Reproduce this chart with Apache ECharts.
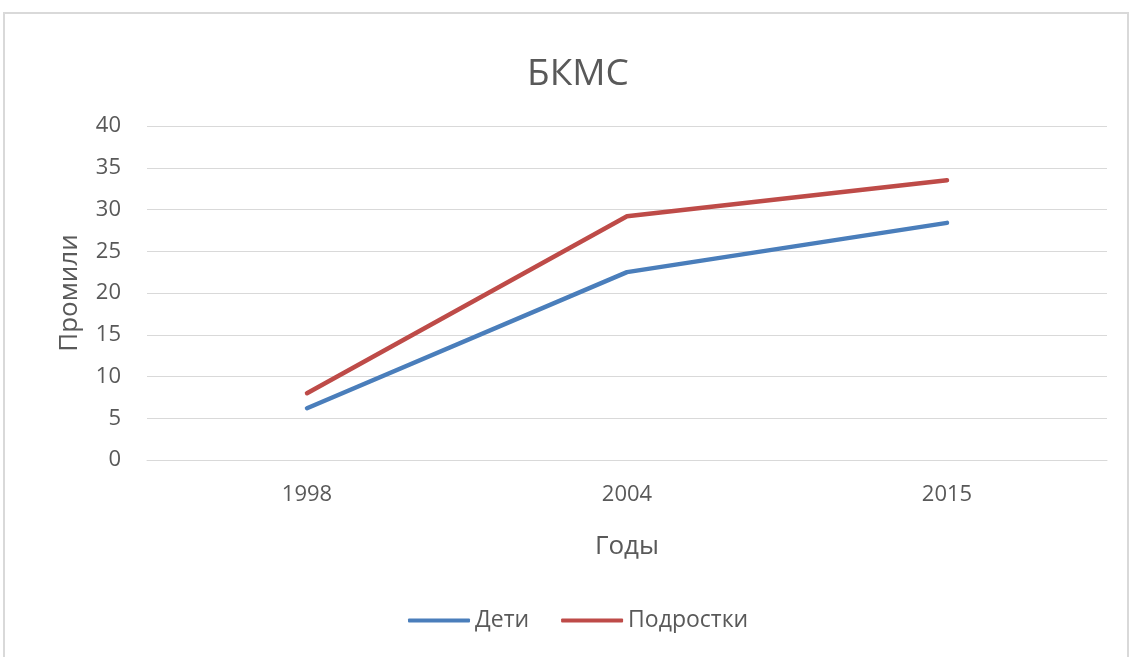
<!DOCTYPE html>
<html>
<head>
<meta charset="utf-8">
<script src="https://cdn.jsdelivr.net/npm/echarts@6/dist/echarts.min.js"></script>
<style>
  html, body { margin: 0; padding: 0; background: #fff; }
  #chart { width: 1131px; height: 657px; }
</style>
</head>
<body>
<div id="chart"></div>
<script>
// data
const years = ['1998', '2004', '2015']
const deti = [6.2, 22.5, 28.4]
const podrostki = [8, 29.2, 33.5]
const seriesNames = ['Дети', 'Подростки']

const font = 'Open Sans'
const textColor = '#595959'

let myChart = echarts.init(document.getElementById('chart'))

let option = {
    backgroundColor: '#fff',
    animation: false,
    textStyle: { fontFamily: font },
    graphic: [{
        type: 'rect',
        shape: { x: 4, y: 13, width: 1124, height: 660 },
        style: { fill: 'none', stroke: '#d9d9d9', lineWidth: 2 },
        silent: true
    }],
    title: {
        text: 'БКМС',
        left: 522,
        top: 51,
        textStyle: { color: textColor, fontSize: 37, fontWeight: 'normal', fontFamily: font }
    },
    legend: {
        data: seriesNames,
        left: 403,
        top: 604,
        itemWidth: 62,
        itemHeight: 4,
        itemGap: 32,
        icon: 'roundRect',
        textStyle: { color: textColor, fontSize: 23, fontFamily: font, padding: [0, 0, 0, 0] }
    },
    grid: {
        left: 147,
        right: 24,
        top: 126,
        bottom: 197,
        containLabel: false
    },
    xAxis: {
        type: 'category',
        data: years,
        boundaryGap: true,
        name: 'Годы',
        nameLocation: 'middle',
        nameGap: 74,
        nameTextStyle: { color: textColor, fontSize: 26, fontFamily: font },
        axisLine: { lineStyle: { color: '#d9d9d9', width: 1 } },
        axisTick: { show: false },
        axisLabel: { color: textColor, fontSize: 22, margin: 24, fontFamily: font }
    },
    yAxis: {
        type: 'value',
        min: 0,
        max: 40,
        interval: 5,
        name: 'Промили',
        nameLocation: 'middle',
        nameGap: 64,
        nameTextStyle: { color: textColor, fontSize: 26, fontFamily: font },
        axisLine: { show: false },
        axisTick: { show: false },
        axisLabel: { color: textColor, fontSize: 22, margin: 26, fontFamily: font },
        splitLine: { lineStyle: { color: '#d9d9d9', width: 1 } }
    },
    series: [{
        name: seriesNames[0],
        type: 'line',
        data: deti,
        symbol: 'none',
        color: '#4a7ebb',
        lineStyle: { width: 4.5, cap: 'round', join: 'round' }
    }, {
        name: seriesNames[1],
        type: 'line',
        data: podrostki,
        symbol: 'none',
        color: '#be4b48',
        lineStyle: { width: 4.5, cap: 'round', join: 'round' }
    }]
}

option && myChart.setOption(option)
</script>
</body>
</html>
